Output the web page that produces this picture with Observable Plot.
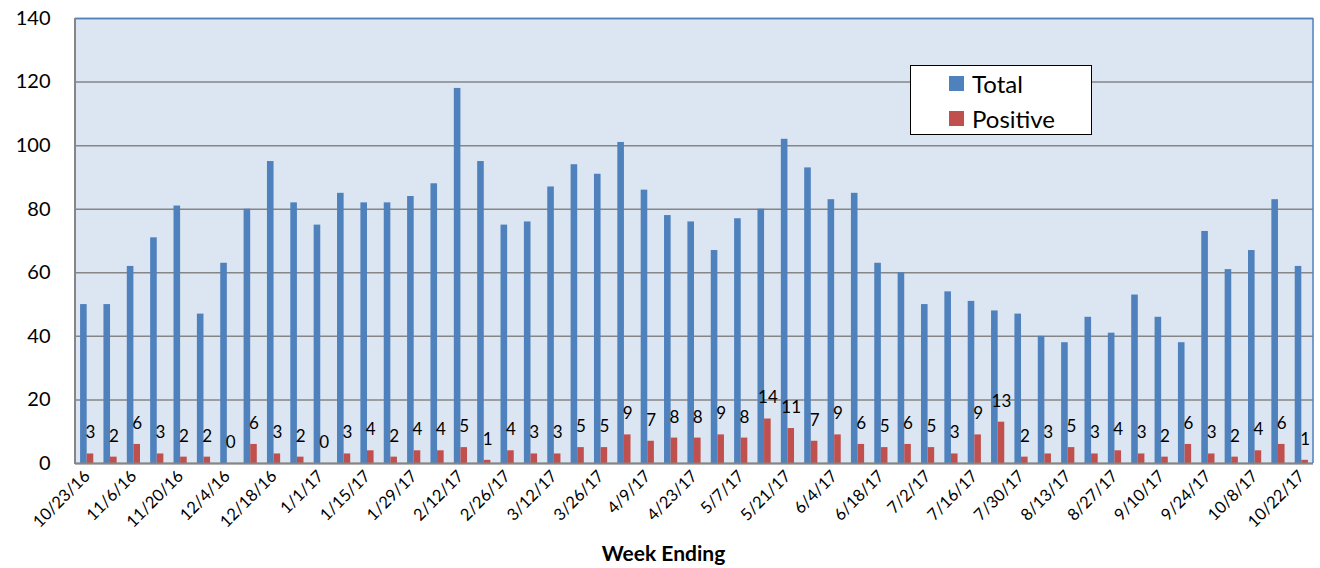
<!DOCTYPE html>
<html><head><meta charset="utf-8">
<script src="https://cdn.jsdelivr.net/npm/d3@7"></script>
<script src="https://cdn.jsdelivr.net/npm/@observablehq/plot@0.6"></script>
<style>
body{margin:0;background:#fff;font-family:Lato,"Open Sans",sans-serif}
#wrap{position:relative;width:1320px;height:568px}
.legend{position:absolute;left:910px;top:65px;width:182px;height:70px;background:#fff;border:1px solid #000;box-sizing:border-box;font-size:24px;color:#000}
.legend .row{position:absolute;left:38px;display:flex;align-items:center;height:24px}
.legend .sw{width:15px;height:15px;margin-right:8px}
</style></head>
<body><div id="wrap"></div>
<script>
const weeks = ["10/23/16","10/30/16","11/6/16","11/13/16","11/20/16","11/27/16","12/4/16","12/11/16","12/18/16","12/25/16","1/1/17","1/8/17","1/15/17","1/22/17","1/29/17","2/5/17","2/12/17","2/19/17","2/26/17","3/5/17","3/12/17","3/19/17","3/26/17","4/2/17","4/9/17","4/16/17","4/23/17","4/30/17","5/7/17","5/14/17","5/21/17","5/28/17","6/4/17","6/11/17","6/18/17","6/25/17","7/2/17","7/9/17","7/16/17","7/23/17","7/30/17","8/6/17","8/13/17","8/20/17","8/27/17","9/3/17","9/10/17","9/17/17","9/24/17","10/1/17","10/8/17","10/15/17","10/22/17"];
const total = [50,50,62,71,81,47,63,80,95,82,75,85,82,82,84,88,118,95,75,76,87,94,91,101,86,78,76,67,77,80,102,93,83,85,63,60,50,54,51,48,47,40,38,46,41,53,46,38,73,61,67,83,62];
const positive = [3,2,6,3,2,2,0,6,3,2,0,3,4,2,4,4,5,1,4,3,3,5,5,9,7,8,8,9,8,14,11,7,9,6,5,6,5,3,9,13,2,3,5,3,4,3,2,6,3,2,4,6,1];
const tickLabels = ["10/23/16","11/6/16","11/20/16","12/4/16","12/18/16","1/1/17","1/15/17","1/29/17","2/12/17","2/26/17","3/12/17","3/26/17","4/9/17","4/23/17","5/7/17","5/21/17","6/4/17","6/18/17","7/2/17","7/16/17","7/30/17","8/13/17","8/27/17","9/10/17","9/24/17","10/8/17","10/22/17"];
const yTicks = [0,20,40,60,80,100,120,140];
const seriesNames = ["Total","Positive"];
const colors = ["#4F81BD","#C0504D"];

const rows = weeks.map((w,i)=>({week:w,total:total[i],positive:positive[i]}));

const W = 1320, H = 568, ml = 75, mr = 7, mt = 18, mb = 105;
const bw = (W - ml - mr) / weeks.length;
const barW = 6.6;

const chart = Plot.plot({
  width: W, height: H,
  marginLeft: ml, marginRight: mr, marginTop: mt, marginBottom: mb,
  style: {fontFamily: "Lato, 'Open Sans', sans-serif", background: "transparent", color: "#000"},
  x: {type: "band", domain: weeks, padding: 0, round: false, label: null},
  y: {domain: [0,140], label: null},
  marks: [
    Plot.frame({fill: "#DCE6F2", stroke: "none"}),
    Plot.gridY(yTicks, {stroke: "#868686", strokeOpacity: 1, strokeWidth: 1.5}),
    Plot.barY(rows, {x: "week", y: "total", fill: colors[0], insetLeft: bw/2 - barW, insetRight: bw/2}),
    Plot.barY(rows, {x: "week", y: "positive", fill: colors[1], insetLeft: bw/2, insetRight: bw/2 - barW}),
    Plot.text(rows, {x: "week", y: "positive", text: d => String(d.positive), dx: barW/2, dy: -21, fontSize: 17, fill: "#000"}),
    Plot.ruleY([140], {stroke: "#4F81BD", strokeWidth: 1.5}),
    Plot.ruleY([0], {stroke: "#868686", strokeWidth: 2}),
    Plot.axisY(yTicks, {tickSize: 0, tickPadding: 25, fontSize: 20, label: null}),
    Plot.axisX(tickLabels, {tickSize: 0, tickRotate: -45, tickPadding: 10, fontSize: 16.5, label: null}),
    Plot.text(["Week Ending"], {frameAnchor: "bottom", dy: 97, dx: -31, fontSize: 21, fontWeight: "bold", fill: "#000"})
  ]
});
document.getElementById("wrap").appendChild(chart);
// left (gray) and right (blue) plot border lines
const svg = d3.select(chart);
svg.append("line").attr("x1", ml).attr("x2", ml).attr("y1", mt).attr("y2", H - mb + 1).attr("stroke", "#868686").attr("stroke-width", 2);
svg.append("line").attr("x1", W - mr).attr("x2", W - mr).attr("y1", mt).attr("y2", H - mb).attr("stroke", "#4F81BD").attr("stroke-width", 1.5);

const lg = document.createElement("div");
lg.className = "legend";
lg.innerHTML = seriesNames.map((n,i)=>`<div class="row" style="top:${5 + i*35}px"><div class="sw" style="background:${colors[i]}"></div><span>${n}</span></div>`).join("");
document.getElementById("wrap").appendChild(lg);
</script>
</body></html>
